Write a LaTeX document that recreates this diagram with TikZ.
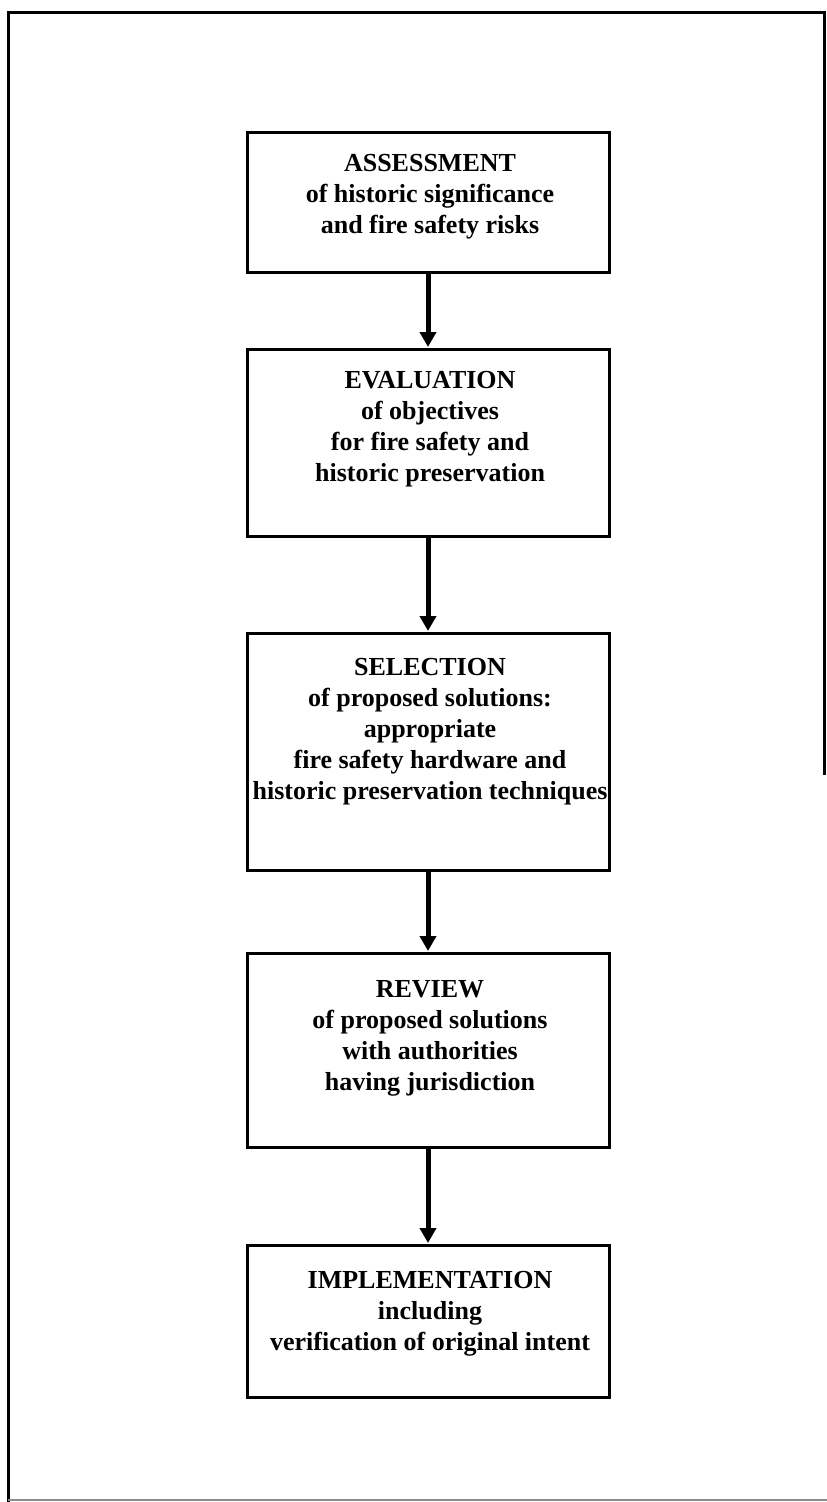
\documentclass[tikz,border=0pt]{standalone}
\usepackage{fontspec}
\setmainfont{Liberation Serif}
\usetikzlibrary{arrows.meta}
\begin{document}
\begin{tikzpicture}[x=1pt,y=-1pt,
  stagebox/.style={draw=black,line width=3pt,minimum width=362pt,inner sep=0pt},
  stagetext/.style={font=\fontsize{26}{31}\selectfont\bfseries,align=center,inner sep=0pt},
  flow/.style={line width=5pt,-{Triangle[length=15pt,width=16pt]},shorten >=0.5pt}]
\useasboundingbox (0,0) rectangle (827,1502);
% outer frame
\draw[line width=3pt] (8,1502) -- (8,12) -- (824,12) -- (824,775);
\draw[line width=2pt,black!45] (8,1500) -- (827,1500);
% boxes
\node[stagebox,minimum height=140pt] (b1) at (428,202) {};
\node[stagebox,minimum height=187pt] (b2) at (428,442.5) {};
\node[stagebox,minimum height=237pt] (b3) at (428,751.5) {};
\node[stagebox,minimum height=194pt] (b4) at (428,1050) {};
\node[stagebox,minimum height=152pt] (b5) at (428,1321) {};
% texts
\node[stagetext] (t1) at (430,197) {ASSESSMENT\\of historic significance\\and fire safety risks};
\node[stagetext] (t2) at (430,429.5) {EVALUATION\\of objectives\\for fire safety and\\historic preservation};
\node[stagetext] (t3) at (430,732) {SELECTION\\of proposed solutions:\\appropriate\\fire safety hardware and\\historic preservation techniques};
\node[stagetext] (t4) at (430,1038) {REVIEW\\of proposed solutions\\with authorities\\having jurisdiction};
\node[stagetext] (t5) at (430,1314) {IMPLEMENTATION\\including\\verification of original intent};
% arrows
\draw[flow] (b1.south) -- (b2.north);
\draw[flow] (b2.south) -- (b3.north);
\draw[flow] (b3.south) -- (b4.north);
\draw[flow] (b4.south) -- (b5.north);
\end{tikzpicture}
\end{document}
